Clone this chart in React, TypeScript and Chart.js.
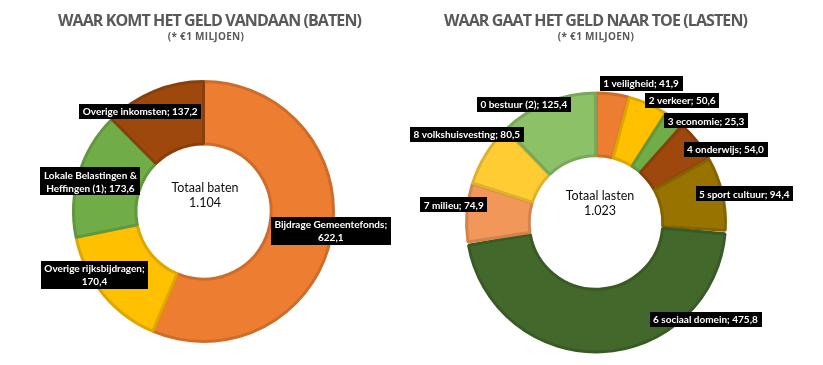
import React, { useEffect, useRef } from "react";
import { Chart, registerables } from "chart.js";

Chart.register(...registerables);

// ---------- data ----------
const batenLabels = [
  "Bijdrage Gemeentefonds",
  "Overige rijksbijdragen",
  "Lokale Belastingen & Heffingen (1)",
  "Overige inkomsten",
];
const batenValues = [622.1, 170.4, 173.6, 137.2];
const batenColors = ["#ED7D31", "#FFC000", "#70AD47", "#9E480E"];
const batenTitle = "WAAR KOMT HET GELD VANDAAN (BATEN)";
const batenCenter = ["Totaal baten", "1.104"];

const lastenLabels = [
  "1 veiligheid",
  "2 verkeer",
  "3 economie",
  "4 onderwijs",
  "5 sport cultuur",
  "6 sociaal domein",
  "7 milieu",
  "8 volkshuisvesting",
  "0 bestuur (2)",
];
const lastenValues = [41.9, 50.6, 25.3, 54.0, 94.4, 475.8, 74.9, 80.5, 125.4];
const lastenColors = [
  "#ED7D31",
  "#FFC000",
  "#70AD47",
  "#9E480E",
  "#997300",
  "#43682B",
  "#F1975A",
  "#FFCD33",
  "#8CC168",
];
const lastenTitle = "WAAR GAAT HET GELD NAAR TOE (LASTEN)";
const lastenCenter = ["Totaal lasten", "1.023"];

const subTitle = "(* €1 MILJOEN)";

// ---------- label placement (angle shift in degrees, radius factor, words on first line; 0 = one line) ----------
const batenLabelAngle = [-3, 9, -2, -10];
const batenLabelRadius = [0.99, 0.97, 0.9, 0.91];
const batenLabelBreak = [2, 2, 3, 0];

const lastenLabelAngle = [10.6, 11.5, 10.3, 9.7, 2, -46, 2.7, 2.5, -9.4];
const lastenLabelRadius = [1.14, 1.17, 1.17, 1.16, 1.18, 1.14, 1.12, 1.22, 1.08];
const lastenLabelBreak = [0, 0, 0, 0, 0, 0, 0, 0, 0];

// ---------- helpers ----------
function darken(hex: string, f: number) {
  const n = parseInt(hex.slice(1), 16);
  const r = Math.round(((n >> 16) & 255) * f);
  const g = Math.round(((n >> 8) & 255) * f);
  const b = Math.round((n & 255) * f);
  return `rgb(${r},${g},${b})`;
}

const fmt = (v: number) => v.toFixed(1).replace(".", ",");

const LABEL_FONT = "bold 10px Lato";
const LABEL_LINE = 13;

function splitLines(text: string, firstWords: number) {
  if (!firstWords) return [text];
  const words = text.split(" ");
  return [words.slice(0, firstWords).join(" "), words.slice(firstWords).join(" ")];
}

function makeLabelPlugin(angles: number[], radii: number[], breaks: number[]) {
  return {
    id: "sliceLabels",
    afterDatasetsDraw(chart: any) {
      const ctx: CanvasRenderingContext2D = chart.ctx;
      const meta = chart.getDatasetMeta(0);
      const labels = chart.data.labels as string[];
      const values = chart.data.datasets[0].data as number[];
      ctx.save();
      ctx.font = LABEL_FONT;
      ctx.textAlign = "center";
      ctx.textBaseline = "middle";
      meta.data.forEach((arc: any, i: number) => {
        const { x, y, startAngle, endAngle, outerRadius } = arc.getProps(
          ["x", "y", "startAngle", "endAngle", "outerRadius"],
          true
        );
        const mid = (startAngle + endAngle) / 2 + (angles[i] * Math.PI) / 180;
        const r = outerRadius * radii[i];
        const cx = x + Math.cos(mid) * r;
        const cy = y + Math.sin(mid) * r;
        const text = `${labels[i]}; ${fmt(values[i])}`;
        const lines = splitLines(text, breaks[i]);
        const w = Math.max(...lines.map((l) => ctx.measureText(l).width)) + 7;
        const h = lines.length * LABEL_LINE + 2;
        ctx.fillStyle = "#000000";
        ctx.fillRect(Math.round(cx - w / 2), Math.round(cy - h / 2), Math.round(w), Math.round(h));
        ctx.fillStyle = "#FFFFFF";
        lines.forEach((l, k) => {
          ctx.fillText(l, cx, cy - ((lines.length - 1) * LABEL_LINE) / 2 + k * LABEL_LINE + 0.5);
        });
      });
      ctx.restore();
    },
  };
}

function makeCenterPlugin(lines: string[], dx: number, dy: number) {
  return {
    id: "centerText",
    afterDatasetsDraw(chart: any) {
      const ctx: CanvasRenderingContext2D = chart.ctx;
      const arc = chart.getDatasetMeta(0).data[0];
      if (!arc) return;
      const { x, y } = arc.getProps(["x", "y"], true);
      ctx.save();
      ctx.font = "12.5px Lato";
      ctx.fillStyle = "#0D0D0D";
      ctx.textAlign = "center";
      ctx.textBaseline = "middle";
      const lh = 15;
      lines.forEach((l, k) => {
        ctx.fillText(l, x + dx, y + dy - ((lines.length - 1) * lh) / 2 + k * lh);
      });
      ctx.restore();
    },
  };
}

type DonutProps = {
  labels: string[];
  values: number[];
  colors: string[];
  center: string[];
  centerDx: number;
  centerDy: number;
  angles: number[];
  radii: number[];
  breaks: number[];
  width: number;
  height: number;
  padding: { top: number; bottom: number; left: number; right: number };
  cutout: string;
  spacing: number;
};

function Donut(p: DonutProps) {
  const ref = useRef<HTMLCanvasElement>(null);
  useEffect(() => {
    if (!ref.current) return;
    const chart = new Chart(ref.current, {
      type: "doughnut",
      data: {
        labels: p.labels,
        datasets: [
          {
            data: p.values,
            backgroundColor: p.colors,
            borderColor: p.colors.map((c) => darken(c, 0.87)),
            borderWidth: 3,
            spacing: p.spacing,
          } as any,
        ],
      },
      options: {
        responsive: false,
        animation: false,
        cutout: p.cutout,
        layout: { padding: p.padding },
        plugins: {
          legend: { display: false },
          tooltip: { enabled: false },
          title: { display: false },
        },
      },
      plugins: [
        makeLabelPlugin(p.angles, p.radii, p.breaks),
        makeCenterPlugin(p.center, p.centerDx, p.centerDy),
      ],
    });
    return () => chart.destroy();
  }, []);
  return (
    <canvas
      ref={ref}
      width={p.width}
      height={p.height}
      style={{ width: p.width, height: p.height, display: "block" }}
    />
  );
}

const titleStyle: React.CSSProperties = {
  position: "absolute",
  fontFamily: "'Open Sans', sans-serif",
  fontWeight: 700,
  fontSize: 16,
  letterSpacing: -0.9,
  color: "#595959",
  whiteSpace: "nowrap",
  transform: "translateX(-50%)",
  top: 9,
};
const subStyle: React.CSSProperties = {
  position: "absolute",
  fontFamily: "'Open Sans', sans-serif",
  fontWeight: 700,
  fontSize: 10,
  letterSpacing: 0.3,
  color: "#595959",
  whiteSpace: "nowrap",
  transform: "translateX(-50%)",
  top: 28.5,
};

export default function App() {
  return (
    <div
      style={{
        position: "absolute",
        left: 0,
        top: 0,
        width: 823,
        height: 365,
        background: "#FFFFFF",
        overflow: "hidden",
      }}
    >
      <div style={{ position: "absolute", left: 0, top: 0 }}>
        <Donut
          labels={batenLabels}
          values={batenValues}
          colors={batenColors}
          center={batenCenter}
          centerDx={1.5}
          centerDy={-16}
          angles={batenLabelAngle}
          radii={batenLabelRadius}
          breaks={batenLabelBreak}
          width={407}
          height={365}
          padding={{ top: 80, bottom: 22, left: 0, right: 0 }}
          cutout="52%"
          spacing={0}
        />
      </div>
      <div style={{ position: "absolute", left: 407, top: 0 }}>
        <Donut
          labels={lastenLabels}
          values={lastenValues}
          colors={lastenColors}
          center={lastenCenter}
          centerDx={4}
          centerDy={-19}
          angles={lastenLabelAngle}
          radii={lastenLabelRadius}
          breaks={lastenLabelBreak}
          width={416}
          height={365}
          padding={{ top: 91.5, bottom: 11.5, left: 0, right: 38 }}
          cutout="51%"
          spacing={3}
        />
      </div>
      <div style={{ ...titleStyle, left: 209.5 }}>{batenTitle}</div>
      <div style={{ ...subStyle, left: 206 }}>{subTitle}</div>
      <div style={{ ...titleStyle, left: 595.5 }}>{lastenTitle}</div>
      <div style={{ ...subStyle, left: 596 }}>{subTitle}</div>
    </div>
  );
}
